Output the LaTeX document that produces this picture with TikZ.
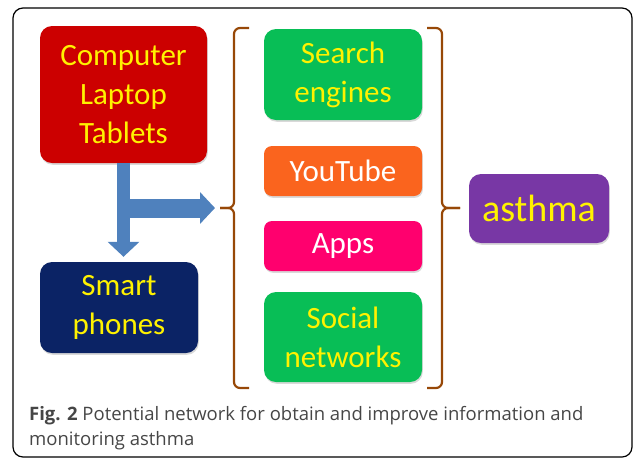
\documentclass[tikz,border=0pt]{standalone}
\usepackage{fontspec}
\setmainfont{Carlito}
\newfontfamily\capfont{Open Sans}
\usetikzlibrary{arrows.meta,shadows}

\definecolor{devred}{RGB}{204,0,0}
\definecolor{phoneblue}{RGB}{11,35,101}
\definecolor{netgreen}{RGB}{8,190,86}
\definecolor{tubeorange}{RGB}{250,100,30}
\definecolor{apppink}{RGB}{255,0,110}
\definecolor{asthmapurple}{RGB}{120,55,165}
\definecolor{flowblue}{RGB}{79,129,189}
\definecolor{bracebrown}{RGB}{151,72,7}
\definecolor{capgray}{RGB}{70,70,70}

\begin{document}
\begin{tikzpicture}[
    x=1pt, y=-1pt,
    box/.style={rounded corners=12pt, inner sep=0pt, align=center, text=yellow,
      font=\fontsize{31}{39}\selectfont,
      drop shadow={shadow xshift=0.8pt, shadow yshift=-1.8pt, opacity=0.3}},
    smallbox/.style={box, rounded corners=8pt, text=white},
    flow/.style={draw=flowblue, line width=13pt,
      -{Triangle[width=31pt,length=15pt]}, shorten >=5pt},
    brace/.style={draw=bracebrown, line width=2.2pt, rounded corners=6pt},
    capnode/.style={font=\capfont\fontsize{18.5}{25}\selectfont, text=capgray,
      align=left, inner sep=0pt}
  ]
  \useasboundingbox (0,0) rectangle (634,459);
  \draw[line width=1.2pt, rounded corners=10pt] (13,8) rectangle (632,457);

  \node[box, fill=devred, minimum width=167pt, minimum height=137pt] (dev) at (123.5,94.5) {Computer\\Laptop\\Tablets};
  \node[box, fill=phoneblue, minimum width=158pt, minimum height=91pt] (phones) at (119,307.5) {Smart\\phones};

  \node[box, fill=netgreen, minimum width=158pt, minimum height=91pt] (search) at (343,74.5) {Search\\engines};
  \node[smallbox, fill=tubeorange, minimum width=158pt, minimum height=50pt] (tube) at (343,171) {YouTube};
  \node[smallbox, fill=apppink, minimum width=158pt, minimum height=50pt] (apps) at (343,246) {Apps};
  \node[box, fill=netgreen, minimum width=158pt, minimum height=90pt] (social) at (343,337) {Social\\networks};

  \node[box, fill=asthmapurple, minimum width=140pt, minimum height=69pt,
    font=\fontsize{38}{46}\selectfont] (asthma) at (539,208.5) {asthma};

  \coordinate (lb) at (220,208);
  \coordinate (rb) at (460,208);
  \draw[brace] (249,28) -- (234,28) -- (234,208) -- (lb);
  \draw[brace] (lb) -- (234,208) -- (234,388) -- (249,388);
  \draw[brace] (427,28) -- (442,28) -- (442,208) -- (rb);
  \draw[brace] (rb) -- (442,208) -- (442,388) -- (427,388);

  \draw[flow] (dev.south) -- (dev.south |- phones.north);
  \draw[flow, line width=19pt] (dev.south |- lb) -- (lb);

  \node[capnode, anchor=base west] (caption) at (29,445) {\textbf{Fig. 2} Potential network for obtain and improve information and\\monitoring asthma};
\end{tikzpicture}
\end{document}
